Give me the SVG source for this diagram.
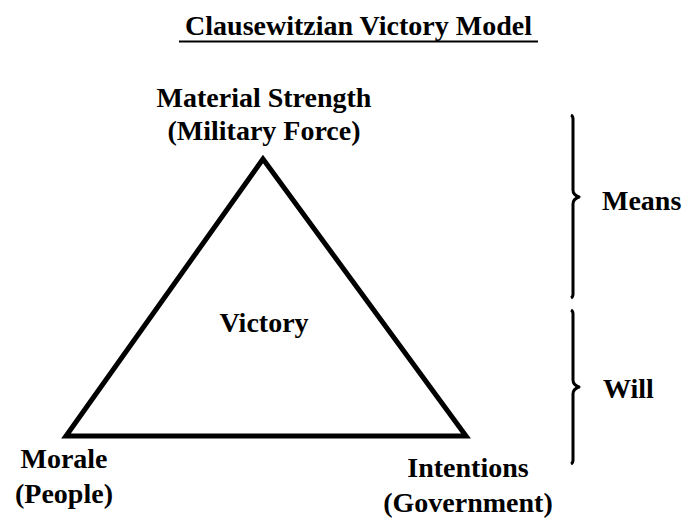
<svg xmlns="http://www.w3.org/2000/svg" width="683" height="519" viewBox="0 0 683 519">
<style>
.t{font-family:"Liberation Serif","Times New Roman",serif;font-weight:bold;font-size:28px;fill:#000;text-anchor:middle}
.l{text-anchor:start}
.b{fill:none;stroke:#000;stroke-width:3;stroke-linecap:butt;stroke-linejoin:round}
</style>
<rect width="683" height="519" fill="#fff"/>
<g id="title">
<text class="t" x="358.5" y="35">Clausewitzian Victory Model</text>
<rect x="179" y="40.5" width="359" height="2" fill="#000"/>
</g>
<g id="triangle">
<polygon points="263,159 66,436 466,436" fill="none" stroke="#000" stroke-width="5" stroke-linejoin="miter"/>
</g>
<g id="victory"><text class="t" x="264" y="332">Victory</text></g>
<g id="material"><text class="t" x="264" y="107">Material Strength</text><text class="t" x="264" y="140">(Military Force)</text></g>
<g id="morale"><text class="t" x="64" y="468">Morale</text><text class="t" x="64" y="503">(People)</text></g>
<g id="intentions"><text class="t" x="468" y="477">Intentions</text><text class="t" x="468" y="512">(Government)</text></g>
<g id="connectors">
<path class="b" d="M571,115 Q573,116 573,119 L573,190 Q573,195 579,197 Q573,199 573,204 L573,294 Q573,297 571,298"/>
<path class="b" d="M571,310 Q573,311 573,314 L573,380 Q573,385 579,387 Q573,389 573,394 L573,460 Q573,463 571,464"/>
</g>
<g id="means"><text class="t l" x="602" y="210">Means</text></g>
<g id="will"><text class="t l" x="603" y="398">Will</text></g>
</svg>
